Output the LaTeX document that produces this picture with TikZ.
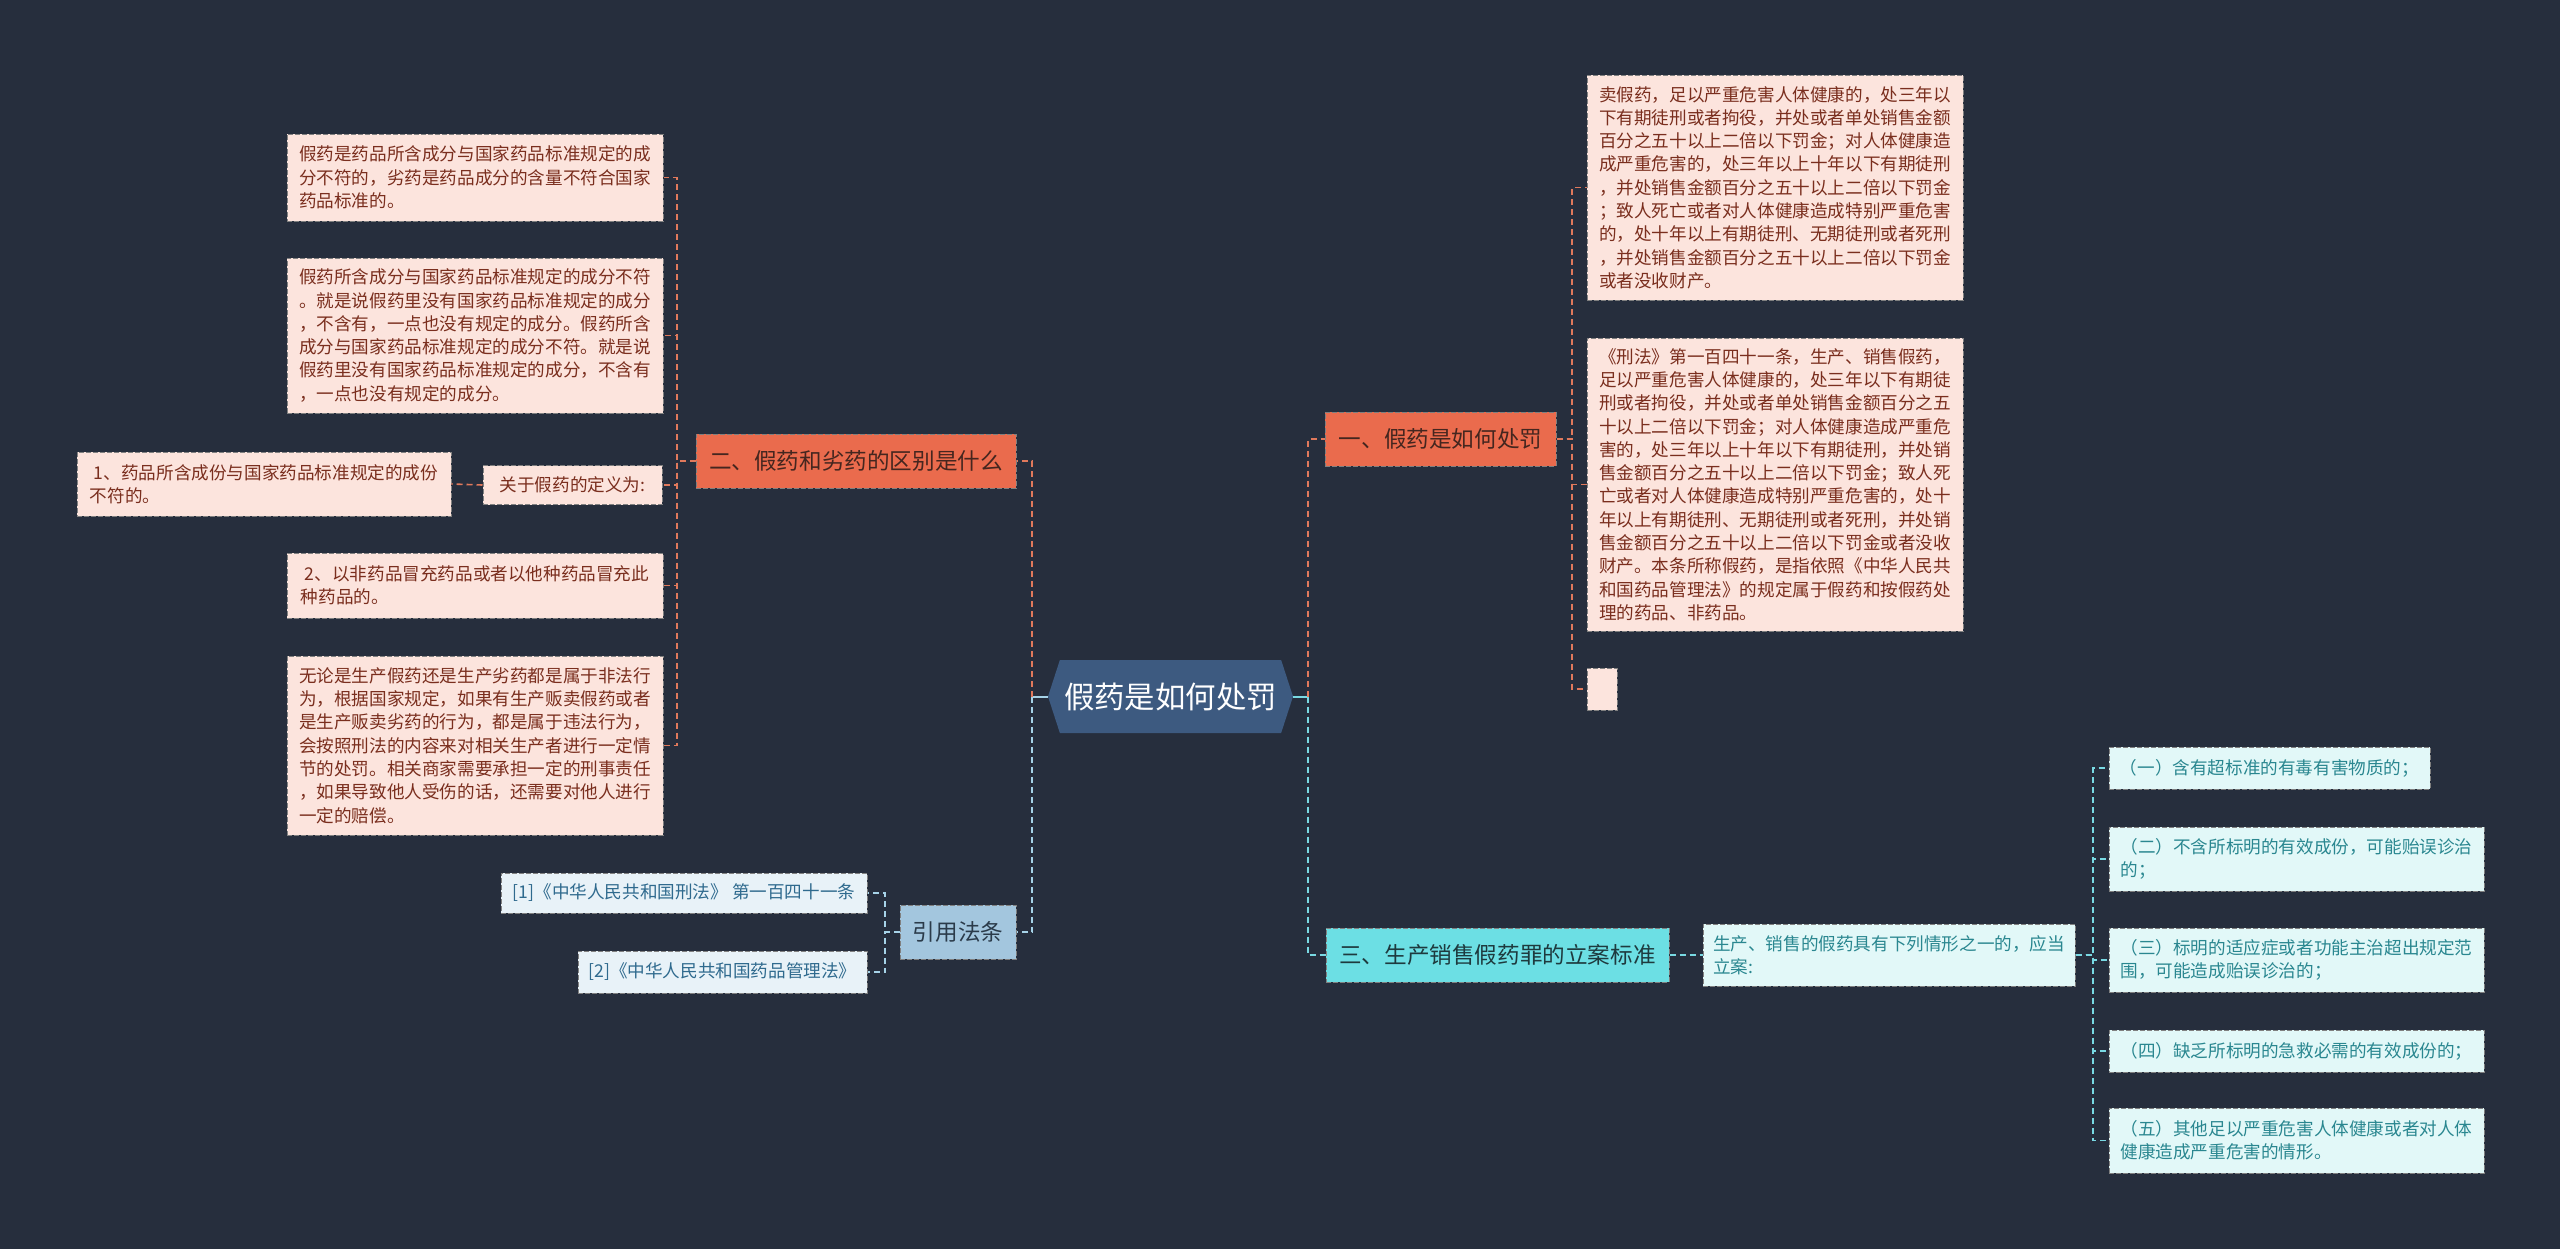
\documentclass[tikz,border=0pt]{standalone}
\usepackage{fontspec}
\setmainfont{Noto Sans CJK SC}
\usepackage{xcolor}
\usetikzlibrary{shapes.symbols,positioning}
\definecolor{bgdark}{HTML}{262E3D}
\definecolor{rootblue}{HTML}{3D5A80}
\definecolor{coral}{HTML}{EA6B4D}
\definecolor{coraltext}{HTML}{45261F}
\definecolor{peachfill}{HTML}{FCE4DD}
\definecolor{peachtext}{HTML}{7A2E1E}
\definecolor{linkorange}{HTML}{E0795C}
\definecolor{cyanfill}{HTML}{6CDFE4}
\definecolor{cyantext}{HTML}{1E3A3E}
\definecolor{mintfill}{HTML}{E2F8F8}
\definecolor{minttext}{HTML}{2A8790}
\definecolor{linkcyan}{HTML}{79D9E3}
\definecolor{steelfill}{HTML}{A3C6DE}
\definecolor{steeltext}{HTML}{2B3B4A}
\definecolor{palefill}{HTML}{E8F2F8}
\definecolor{paletext}{HTML}{2F6A8E}
\definecolor{linkblue}{HTML}{A6D3E8}

\begin{document}
\begin{tikzpicture}[
  x=0.5pt,
  y=-0.5pt,
  every node/.style={font=\fontsize{8.8pt}{11.65pt}\selectfont, inner sep=0pt, align=left},
  root/.style={shape=signal, signal to=west and east, signal pointer angle=144, fill=rootblue, text=white, font=\fontsize{15.2pt}{18pt}\selectfont, minimum width=122.5pt, minimum height=36.5pt},
  topic/.style={draw=black!50, dash pattern=on 2.5pt off 1pt, line width=0.5pt, minimum height=27pt, font=\fontsize{11.3pt}{14pt}\selectfont},
  coraltopic/.style={topic, fill=coral, text=coraltext},
  cyantopic/.style={topic, fill=cyanfill, text=cyantext},
  bluetopic/.style={topic, fill=steelfill, text=steeltext},
  leaf/.style={draw=black!50, dash pattern=on 2.5pt off 1pt, line width=0.5pt},
  peach/.style={leaf, fill=peachfill, text=peachtext},
  pale/.style={leaf, fill=palefill, text=paletext},
  mint/.style={leaf, fill=mintfill, text=minttext},
  linkO/.style={draw=linkorange, line width=0.8pt, dash pattern=on 3pt off 2pt},
  linkC/.style={draw=linkcyan, line width=0.8pt, dash pattern=on 3pt off 2pt},
  linkB/.style={draw=linkblue, line width=0.8pt, dash pattern=on 3pt off 2pt},
  stubB/.style={draw=linkblue, line width=1pt},
  stubC/.style={draw=linkcyan, line width=1pt}
]
\fill[bgdark] (0,0) rectangle (2560,1249);
\useasboundingbox (0,0) rectangle (2560,1249);

\node[root] (root) at (1170.5,696.5) {假药是如何处罚};

\node[coraltopic, minimum width=160pt] (diff) at (856,461) {二、假药和劣药的区别是什么};
\node[bluetopic, minimum width=58pt] (cite) at (958,932) {引用法条};
\node[coraltopic, minimum width=115.5pt] (punish) at (1440.5,439) {一、假药是如何处罚};
\node[cyantopic, minimum width=171.5pt] (std) at (1497.5,955) {三、生产销售假药罪的立案标准};

\node[peach, minimum width=188pt, minimum height=43.5pt] (d1) at (475,177.5) {假药是药品所含成分与国家药品标准规定的成\\分不符的，劣药是药品成分的含量不符合国家\\药品标准的。};
\node[peach, minimum width=188pt, minimum height=77.5pt] (d2) at (475,335.5) {假药所含成分与国家药品标准规定的成分不符\\。就是说假药里没有国家药品标准规定的成分\\，不含有，一点也没有规定的成分。假药所含\\成分与国家药品标准规定的成分不符。就是说\\假药里没有国家药品标准规定的成分，不含有\\，一点也没有规定的成分。};
\node[peach, minimum width=89.5pt, minimum height=19.5pt] (def) at (572.5,485) {关于假药的定义为:};
\node[peach, minimum width=187pt, minimum height=32pt] (def1) at (264,484) {\ 1、药品所含成份与国家药品标准规定的成份\\不符的。};
\node[peach, minimum width=188pt, minimum height=32.5pt] (d3) at (475,585.5) {\ 2、以非药品冒充药品或者以他种药品冒充此\\种药品的。};
\node[peach, minimum width=188pt, minimum height=89.5pt] (d4) at (475,745.5) {无论是生产假药还是生产劣药都是属于非法行\\为，根据国家规定，如果有生产贩卖假药或者\\是生产贩卖劣药的行为，都是属于违法行为，\\会按照刑法的内容来对相关生产者进行一定情\\节的处罚。相关商家需要承担一定的刑事责任\\，如果导致他人受伤的话，还需要对他人进行\\一定的赔偿。};

\node[pale, minimum width=183pt, minimum height=20pt] (ref1) at (684,893) {[1]《中华人民共和国刑法》 第一百四十一条};
\node[pale, minimum width=144.5pt, minimum height=21pt] (ref2) at (722.5,972) {[2]《中华人民共和国药品管理法》};

\node[peach, minimum width=188pt, minimum height=112.5pt] (p1) at (1775,187.5) {卖假药，足以严重危害人体健康的，处三年以\\下有期徒刑或者拘役，并处或者单处销售金额\\百分之五十以上二倍以下罚金；对人体健康造\\成严重危害的，处三年以上十年以下有期徒刑\\，并处销售金额百分之五十以上二倍以下罚金\\；致人死亡或者对人体健康造成特别严重危害\\的，处十年以上有期徒刑、无期徒刑或者死刑\\，并处销售金额百分之五十以上二倍以下罚金\\或者没收财产。};
\node[peach, minimum width=188pt, minimum height=146.5pt] (p2) at (1775,484.5) {《刑法》第一百四十一条，生产、销售假药，\\足以严重危害人体健康的，处三年以下有期徒\\刑或者拘役，并处或者单处销售金额百分之五\\十以上二倍以下罚金；对人体健康造成严重危\\害的，处三年以上十年以下有期徒刑，并处销\\售金额百分之五十以上二倍以下罚金；致人死\\亡或者对人体健康造成特别严重危害的，处十\\年以上有期徒刑、无期徒刑或者死刑，并处销\\售金额百分之五十以上二倍以下罚金或者没收\\财产。本条所称假药，是指依照《中华人民共\\和国药品管理法》的规定属于假药和按假药处\\理的药品、非药品。};
\node[peach, minimum width=15pt, minimum height=21pt] (p3) at (1602,689) {};

\node[mint, minimum width=186pt, minimum height=31pt] (case) at (1889,955) {生产、销售的假药具有下列情形之一的，应当\\立案:};
\node[mint, minimum width=160.5pt, minimum height=21pt] (c1) at (2269.5,768) {（一）含有超标准的有毒有害物质的；};
\node[mint, minimum width=187.5pt, minimum height=32pt] (c2) at (2296.5,859) {（二）不含所标明的有效成份，可能贻误诊治\\的；};
\node[mint, minimum width=187.5pt, minimum height=32pt] (c3) at (2296.5,960) {（三）标明的适应症或者功能主治超出规定范\\围，可能造成贻误诊治的；};
\node[mint, minimum width=187.5pt, minimum height=21pt] (c4) at (2296.5,1051) {（四）缺乏所标明的急救必需的有效成份的；};
\node[mint, minimum width=187.5pt, minimum height=32.5pt] (c5) at (2296.5,1140.5) {（五）其他足以严重危害人体健康或者对人体\\健康造成严重危害的情形。};

\coordinate (busL) at (1032,697);
\coordinate (busR) at (1308,697);
\coordinate (busD) at (677,461);
\coordinate (busC) at (885,932);
\coordinate (busP) at (1572,439);
\coordinate (busS) at (2093,955);

\draw[stubB] (root.west) -- (busL |- root.west);
\draw[linkO] (busL |- root.west) |- (diff.east);
\draw[linkB] (busL |- root.west) |- (cite.east);
\draw[stubC] (root.east) -- (busR |- root.east);
\draw[linkO] (busR |- root.east) |- (punish.west);
\draw[linkC] (busR |- root.east) |- (std.west);

\draw[linkO] (diff.west) -- (busD |- diff.west) |- (d1.east);
\draw[linkO] (diff.west) -- (busD |- diff.west) |- (d2.east);
\draw[linkO] (diff.west) -- (busD |- diff.west) |- (def.east);
\draw[linkO] (diff.west) -- (busD |- diff.west) |- (d3.east);
\draw[linkO] (diff.west) -- (busD |- diff.west) |- (d4.east);
\draw[linkO] (def.west) -- (def1.east);

\draw[linkB] (cite.west) -- (busC |- cite.west) |- (ref1.east);
\draw[linkB] (cite.west) -- (busC |- cite.west) |- (ref2.east);

\draw[linkO] (punish.east) -- (busP |- punish.east) |- (p1.west);
\draw[linkO] (punish.east) -- (busP |- punish.east) |- (p2.west);
\draw[linkO] (punish.east) -- (busP |- punish.east) |- (p3.west);

\draw[linkC] (std.east) -- (case.west);
\draw[linkC] (case.east) -- (busS |- case.east) |- (c1.west);
\draw[linkC] (case.east) -- (busS |- case.east) |- (c2.west);
\draw[linkC] (case.east) -- (busS |- case.east) |- (c3.west);
\draw[linkC] (case.east) -- (busS |- case.east) |- (c4.west);
\draw[linkC] (case.east) -- (busS |- case.east) |- (c5.west);
\end{tikzpicture}
\end{document}
